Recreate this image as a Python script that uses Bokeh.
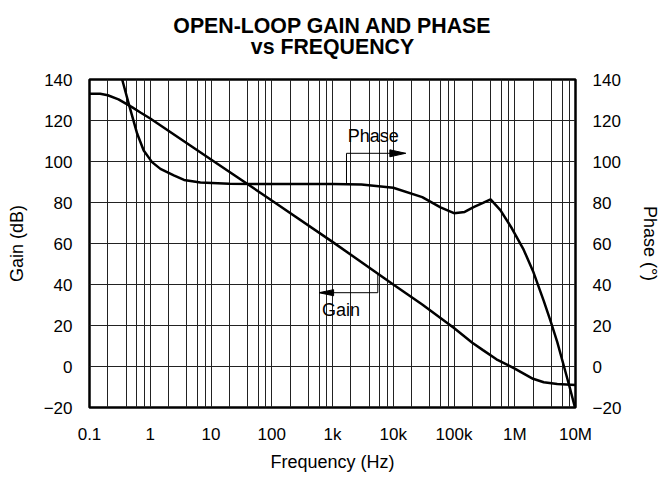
from bokeh.plotting import figure
from bokeh.models import Range1d, LinearAxis, FixedTicker, CustomJSTickFormatter, Label, Title
from bokeh.embed import file_html
from bokeh.resources import INLINE

# ---------------- data ----------------
title_line1 = "OPEN-LOOP GAIN AND PHASE"
title_line2 = "vs FREQUENCY"
x_label = "Frequency (Hz)"
y_label_left = "Gain (dB)"
y_label_right = "Phase (\u00b0)"

x_ticks = [0.1, 1, 10, 100, 1e3, 1e4, 1e5, 1e6, 1e7]
x_tick_labels = ["0.1", "1", "10", "100", "1k", "10k", "100k", "1M", "10M"]
y_ticks = [-20, 0, 20, 40, 60, 80, 100, 120, 140]
y_tick_labels = ["\u221220", "0", "20", "40", "60", "80", "100", "120", "140"]
minor_multiples = [2, 4, 6, 8]

freq_gain = [0.1, 0.15, 0.2, 0.3, 0.5, 0.7, 1, 10, 100, 1e3, 1e4, 3e4, 1e5,
             2e5, 3e5, 5e5, 1e6, 2e6, 3e6, 5e6, 1e7]
gain_db = [133, 133, 132.3, 130.3, 126.5, 123.8, 121, 101, 81, 60.8, 40, 30.2, 18.8,
           11.6, 8, 3.5, -1, -6, -7.7, -8.5, -9]

freq_phase = [0.3, 0.345, 0.444, 0.61, 0.78, 1.07, 1.47, 2.44, 3.6, 6.7, 20, 100, 1e3,
              3e3, 1e4, 3e4, 6e4, 1e5, 1.5e5, 2.1e5, 3e5, 4e5, 5.8e5, 9e5, 1.4e6,
              2e6, 3e6, 3.9e6, 5e6, 6.4e6, 8e6, 1e7]
phase_deg = [147, 140, 128, 113.5, 105.4, 99.7, 96.4, 93.2, 91, 89.8, 89.2, 89, 89,
             88.8, 87.2, 82.6, 77.6, 74.8, 75.4, 77.7, 79.8, 81.5, 76.3, 67.3, 57,
             46.5, 32, 22, 12, 0.5, -10, -21]

# annotation callouts (Hz, value)
phase_callout_x = [1700, 1700, 16000]
phase_callout_y = [89, 104, 104]
phase_text_pos = (4700, 112.5)
gain_callout_x = [5570, 5570, 600]
gain_callout_y = [45, 36, 36]
gain_text_pos = (1380, 27.5)

# ---------------- figure ----------------
FONT = "Liberation Sans"
p = figure(frame_width=486, frame_height=328, x_axis_type="log",
           x_range=Range1d(0.1, 1e7), y_range=Range1d(-20, 140),
           output_backend="svg", toolbar_location=None,
           min_border_left=89, min_border_right=0,
           min_border_top=79, min_border_bottom=0)
p.extra_y_ranges = {"phase": Range1d(-20, 140)}
p.add_layout(LinearAxis(y_range_name="phase"), "right")

# title: outermost line is p.title; items added "above" first sit nearest the frame
p.title = Title(text=title_line1, align="center", text_font=FONT, standoff=-5,
                text_font_size="21.3px", text_font_style="bold", text_color="black")
p.add_layout(Title(text=" ", text_font_size="1px", standoff=20), "above")
p.add_layout(Title(text=title_line2, align="center", text_font=FONT, standoff=-5,
                   text_font_size="21.3px", text_font_style="bold", text_color="black"),
             "above")

fmt_code = """
let best = 0, bd = Infinity;
for (let i = 0; i < vals.length; i++) {
  const d = Math.abs(vals[i] - tick);
  if (d < bd) { bd = d; best = i; }
}
return labs[best];
"""
xfmt = CustomJSTickFormatter(args=dict(vals=x_ticks, labs=x_tick_labels), code=fmt_code)
yfmt = CustomJSTickFormatter(args=dict(vals=y_ticks, labs=y_tick_labels), code=fmt_code)

p.xaxis.ticker = FixedTicker(ticks=x_ticks)
p.xaxis.formatter = xfmt
p.xaxis.axis_label = x_label
for ax in p.yaxis:
    ax.ticker = FixedTicker(ticks=y_ticks)
    ax.formatter = yfmt
p.yaxis[0].axis_label = y_label_left
p.yaxis[1].axis_label = y_label_right

for ax in list(p.xaxis) + list(p.yaxis):
    ax.axis_line_color = None
    ax.major_tick_line_color = None
    ax.minor_tick_line_color = None
    ax.major_tick_out = 0
    ax.major_tick_in = 0
    ax.minor_tick_out = 0
    ax.minor_tick_in = 0
    ax.major_label_text_font = FONT
    ax.major_label_text_font_size = "17px"
    ax.major_label_text_color = "black"
    ax.axis_label_text_font = FONT
    ax.axis_label_text_font_size = "18px"
    ax.axis_label_text_font_style = "normal"
    ax.axis_label_text_color = "black"

p.xaxis.major_label_standoff = 17
p.xaxis.axis_label_standoff = 5
p.yaxis[0].major_label_standoff = 17
p.yaxis[0].axis_label_standoff = 14
p.yaxis[1].major_label_standoff = 17
p.yaxis[1].axis_label_standoff = 16

x_grid_ticks = []
for d in x_ticks:
    x_grid_ticks.append(d)
    if d < 1e7:
        x_grid_ticks += [d * m for m in minor_multiples]
p.xgrid.ticker = FixedTicker(ticks=x_grid_ticks)
p.ygrid.ticker = FixedTicker(ticks=y_ticks)
for g in list(p.xgrid) + list(p.ygrid):
    g.grid_line_color = "#222222"
    g.grid_line_width = 1
    g.grid_line_alpha = 1.0

p.outline_line_color = "black"
p.outline_line_width = 2.5
p.background_fill_color = "white"
p.border_fill_color = "white"

# curves
p.line(freq_gain, gain_db, line_color="black", line_width=2.5)
p.line(freq_phase, phase_deg, line_color="black", line_width=2.5, y_range_name="phase")

# callouts
def arrow_head(tip_x, tip_y, direction, length_dec=0.26, half_h=1.7):
    base_x = tip_x * 10 ** (-direction * length_dec)
    return [tip_x, base_x, base_x], [tip_y, tip_y + half_h, tip_y - half_h]

p.line(phase_callout_x, phase_callout_y, line_color="black", line_width=1)
hx, hy = arrow_head(phase_callout_x[-1], phase_callout_y[-1], +1)
p.patch(hx, hy, fill_color="black", line_color="black", line_width=1)
p.line(gain_callout_x, gain_callout_y, line_color="black", line_width=1)
hx, hy = arrow_head(gain_callout_x[-1], gain_callout_y[-1], -1, length_dec=0.24, half_h=1.5)
p.patch(hx, hy, fill_color="black", line_color="black", line_width=1)

for txt, (tx, ty) in (("Phase", phase_text_pos), ("Gain", gain_text_pos)):
    p.add_layout(Label(x=tx, y=ty, text=txt, text_font=FONT, text_font_size="18px",
                       text_align="center", text_baseline="middle", text_color="black"))

open("out.html", "w").write(file_html(p, INLINE))
